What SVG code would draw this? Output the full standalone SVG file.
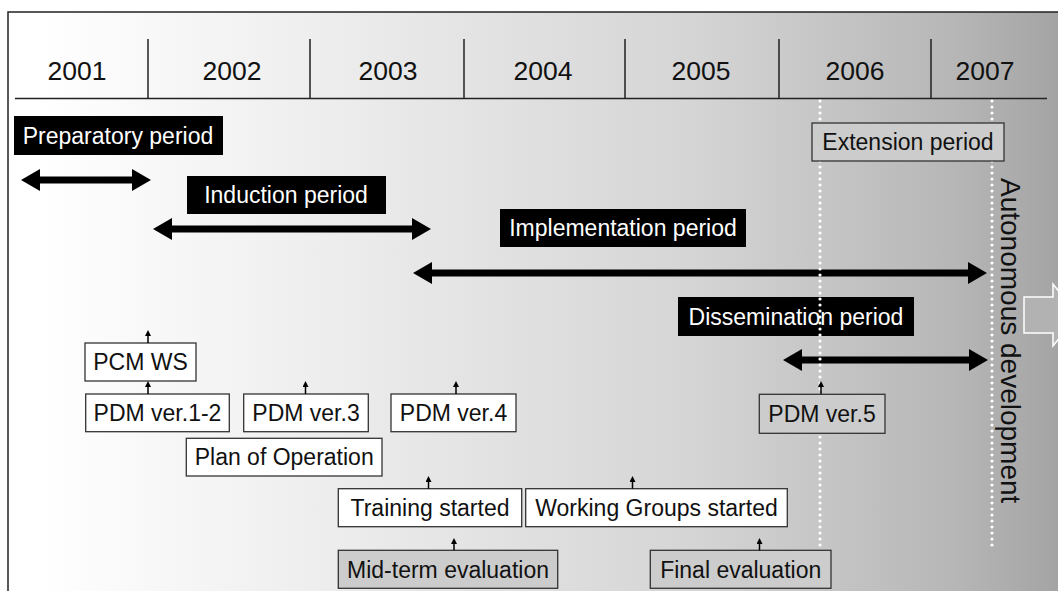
<svg xmlns="http://www.w3.org/2000/svg" width="1058" height="591" viewBox="0 0 1058 591">
  <style>
    text { font-family: "Liberation Sans", Arial, sans-serif; fill: #111; }
    .year { font-size: 26.5px; text-anchor: middle; }
    .lbl { font-size: 23px; text-anchor: middle; }
    .inv { fill: #ffffff; }
    .bar { fill: #000000; }
    .box { fill: #ffffff; stroke: #333333; stroke-width: 1.3; }
    .gbox { fill: #cccccc; stroke: #333333; stroke-width: 1.3; }
    .rule { stroke: #222222; stroke-width: 1.5; fill: none; }
    .span { stroke: #000000; stroke-width: 7; fill: none; marker-start: url(#bigHead); marker-end: url(#bigHead); }
    .tick { stroke: #000000; stroke-width: 1.5; fill: none; marker-end: url(#smallHead); }
    .guide { stroke: #ffffff; stroke-width: 3.2; stroke-linecap: round; stroke-dasharray: 0 6; fill: none; }
  </style>
  <defs>
    <linearGradient id="bg" gradientUnits="userSpaceOnUse" x1="40" y1="0" x2="1058" y2="0">
      <stop offset="0" stop-color="#ffffff"/>
      <stop offset="0.3" stop-color="#ececec"/>
      <stop offset="0.65" stop-color="#d4d4d4"/>
      <stop offset="0.9" stop-color="#b6b6b6"/>
      <stop offset="1" stop-color="#a4a4a4"/>
    </linearGradient>
    <marker id="bigHead" viewBox="0 0 19 22" refX="0" refY="11" markerWidth="19" markerHeight="22" markerUnits="userSpaceOnUse" orient="auto-start-reverse">
      <path d="M0,0 L19,11 L0,22 Z" fill="#000000"/>
    </marker>
    <marker id="smallHead" viewBox="0 0 6 6" refX="0" refY="3" markerWidth="6" markerHeight="6" markerUnits="userSpaceOnUse" orient="auto">
      <path d="M0,0 L6,3 L0,6 Z" fill="#000000"/>
    </marker>
  </defs>

  <!-- frame and shaded background -->
  <rect x="8" y="12" width="1050" height="579" fill="url(#bg)"/>
  <path class="rule" d="M8,591 V12 H1058"/>

  <!-- year scale -->
  <g id="years">
    <path class="rule" d="M15,98.5 H1047 M148,39 V98.5 M310,39 V98.5 M464,39 V98.5 M625,39 V98.5 M779,39 V98.5 M931,39 V98.5"/>
    <text class="year" x="77" y="80">2001</text>
    <text class="year" x="232" y="80">2002</text>
    <text class="year" x="388" y="80">2003</text>
    <text class="year" x="543" y="80">2004</text>
    <text class="year" x="701" y="80">2005</text>
    <text class="year" x="855" y="80">2006</text>
    <text class="year" x="985" y="80">2007</text>
  </g>

  <!-- period labels -->
  <g id="preparatory">
    <rect class="bar" x="14" y="116" width="209" height="39"/>
    <text class="lbl inv" x="118" y="143.5">Preparatory period</text>
  </g>
  <g id="induction">
    <rect class="bar" x="187" y="176" width="199" height="38"/>
    <text class="lbl inv" x="286" y="203">Induction period</text>
  </g>
  <g id="implementation">
    <rect class="bar" x="500" y="209" width="246" height="38"/>
    <text class="lbl inv" x="623" y="236">Implementation period</text>
  </g>
  <g id="dissemination">
    <rect class="bar" x="678" y="297" width="236" height="39"/>
    <text class="lbl inv" x="796" y="324.5">Dissemination period</text>
  </g>

  <!-- period spans -->
  <g id="spans">
    <line class="span" x1="40" y1="180" x2="132" y2="180"/>
    <line class="span" x1="172" y1="229" x2="412" y2="229"/>
    <line class="span" x1="432" y1="273" x2="968" y2="273"/>
    <line class="span" x1="802" y1="360" x2="969" y2="360"/>
  </g>

  <!-- dotted year guides -->
  <g id="guides">
    <line class="guide" x1="820" y1="101" x2="820" y2="547"/>
    <line class="guide" x1="992" y1="101" x2="992" y2="547"/>
  </g>

  <g id="extension">
    <rect class="gbox" x="812" y="123" width="192" height="38"/>
    <text class="lbl" x="908" y="149.5">Extension period</text>
  </g>

  <g id="autonomous">
    <text font-size="28" transform="translate(1001,178) rotate(90)">Autonomous development</text>
    <path d="M1024,297 H1053 V284 L1078,315 L1053,346 V333 H1024 Z" fill="#b2b2b2" stroke="#ffffff" stroke-width="1.5"/>
  </g>

  <!-- milestones -->
  <g id="pcm-ws">
    <rect class="box" x="85" y="343" width="111" height="38"/>
    <text class="lbl" x="140.5" y="370">PCM WS</text>
  </g>
  <g id="pdm-1-2">
    <rect class="box" x="85.7" y="394" width="143.6" height="37.7"/>
    <text class="lbl" x="157.5" y="421">PDM ver.1-2</text>
  </g>
  <g id="pdm-3">
    <rect class="box" x="243.7" y="394" width="124.6" height="37.7"/>
    <text class="lbl" x="306" y="421">PDM ver.3</text>
  </g>
  <g id="pdm-4">
    <rect class="box" x="391" y="394" width="125" height="37.7"/>
    <text class="lbl" x="453.5" y="421">PDM ver.4</text>
  </g>
  <g id="pdm-5">
    <rect class="gbox" x="759.3" y="394.3" width="125.7" height="39"/>
    <text class="lbl" x="822" y="422">PDM ver.5</text>
  </g>
  <g id="plan-of-operation">
    <rect class="box" x="186.3" y="438.3" width="195.7" height="37.7"/>
    <text class="lbl" x="284.2" y="465">Plan of Operation</text>
  </g>
  <g id="training">
    <rect class="box" x="338.3" y="488.7" width="183.4" height="38"/>
    <text class="lbl" x="430" y="516">Training started</text>
  </g>
  <g id="working-groups">
    <rect class="box" x="525.7" y="488.7" width="261.6" height="38"/>
    <text class="lbl" x="656.5" y="516">Working Groups started</text>
  </g>
  <g id="mid-term">
    <rect class="gbox" x="338.3" y="550.3" width="219.4" height="38"/>
    <text class="lbl" x="448" y="578">Mid-term evaluation</text>
  </g>
  <g id="final">
    <rect class="gbox" x="650.3" y="550.3" width="180.7" height="38"/>
    <text class="lbl" x="740.7" y="578">Final evaluation</text>
  </g>

  <!-- milestone pointers -->
  <g id="connectors">
    <line class="tick" x1="148" y1="343" x2="148" y2="336"/>
    <line class="tick" x1="148" y1="394" x2="148" y2="387"/>
    <line class="tick" x1="305.5" y1="394" x2="305.5" y2="387"/>
    <line class="tick" x1="456" y1="394" x2="456" y2="387"/>
    <line class="tick" x1="821" y1="394" x2="821" y2="387"/>
    <line class="tick" x1="428.5" y1="488.7" x2="428.5" y2="482"/>
    <line class="tick" x1="632.5" y1="488.7" x2="632.5" y2="482"/>
    <line class="tick" x1="454" y1="550.3" x2="454" y2="544"/>
    <line class="tick" x1="759.5" y1="550.3" x2="759.5" y2="544"/>
  </g>
</svg>
